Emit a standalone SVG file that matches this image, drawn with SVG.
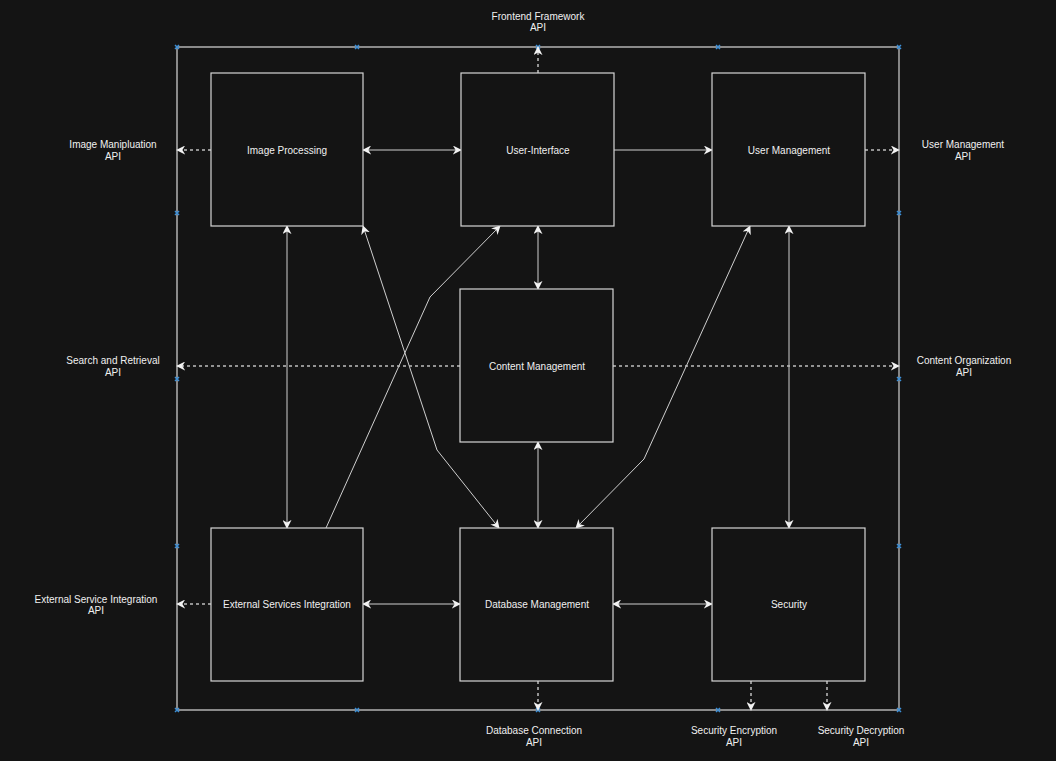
<svg xmlns="http://www.w3.org/2000/svg" width="1056" height="761" viewBox="0 0 1056 761">
<style>
.node rect{fill:#141414;stroke:#d6d6d6;stroke-width:1.2}
.node text,.lbl{fill:#f0f0f0;font-family:"Liberation Sans",Arial,sans-serif;font-size:10px;text-anchor:middle}
.c{fill:none;stroke:#cfcfcf;stroke-width:1}
.d{fill:none;stroke:#bdbdbd;stroke-width:1.5;stroke-dasharray:3,3}
.frame{fill:none;stroke:#8a8a8a;stroke-width:2}
.mk{stroke:#3d8fd6;stroke-width:1.5}
</style>
<defs>
<marker id="ah" viewBox="0 0 10 10" refX="9" refY="5" markerWidth="9" markerHeight="9" markerUnits="userSpaceOnUse" orient="auto-start-reverse">
<path d="M0,0 L10,5 L0,10 L3,5 z" fill="#f2f2f2"/>
</marker>
</defs>
<rect width="1056" height="761" fill="#141414"/>
<g id="frame">
<line class="frame" x1="177" y1="47" x2="899" y2="47"/>
<line class="frame" x1="177" y1="47" x2="177" y2="710"/>
<line class="frame" x1="177" y1="710" x2="899" y2="710"/>
<line x1="899" y1="47" x2="899" y2="710" stroke="#d0d0d0" stroke-width="1.2"/>
<g class="mk">
<path d="M175,45l4,4m0,-4l-4,4"/><path d="M355,45l4,4m0,-4l-4,4"/><path d="M536,45l4,4m0,-4l-4,4"/><path d="M716,45l4,4m0,-4l-4,4"/><path d="M897,45l4,4m0,-4l-4,4"/>
<path d="M175,211l4,4m0,-4l-4,4"/><path d="M175,377l4,4m0,-4l-4,4"/><path d="M175,544l4,4m0,-4l-4,4"/><path d="M175,708l4,4m0,-4l-4,4"/>
<path d="M897,211l4,4m0,-4l-4,4"/><path d="M897,377l4,4m0,-4l-4,4"/><path d="M897,544l4,4m0,-4l-4,4"/><path d="M897,708l4,4m0,-4l-4,4"/>
<path d="M355,708l4,4m0,-4l-4,4"/><path d="M536,708l4,4m0,-4l-4,4"/><path d="M716,708l4,4m0,-4l-4,4"/>
</g>
</g>
<g id="connectors">
<line class="c" x1="363" y1="150" x2="461" y2="150" marker-start="url(#ah)" marker-end="url(#ah)"/>
<line class="c" x1="614" y1="150" x2="712" y2="150" marker-end="url(#ah)"/>
<line class="c" x1="538" y1="226" x2="538" y2="289" marker-start="url(#ah)" marker-end="url(#ah)"/>
<line class="c" x1="287" y1="226" x2="287" y2="528" marker-start="url(#ah)" marker-end="url(#ah)"/>
<line class="c" x1="789" y1="226" x2="789" y2="528" marker-start="url(#ah)" marker-end="url(#ah)"/>
<line class="c" x1="538" y1="442" x2="538" y2="528" marker-start="url(#ah)" marker-end="url(#ah)"/>
<line class="c" x1="363" y1="604" x2="460" y2="604" marker-start="url(#ah)" marker-end="url(#ah)"/>
<line class="c" x1="613" y1="604" x2="712" y2="604" marker-start="url(#ah)" marker-end="url(#ah)"/>
<polyline class="c" points="326,528 430,297 500,226" marker-end="url(#ah)"/>
<polyline class="c" points="363,226 437,450 499,528" marker-start="url(#ah)" marker-end="url(#ah)"/>
<polyline class="c" points="750,226 644,459 576,528" marker-start="url(#ah)" marker-end="url(#ah)"/>
<line class="d" x1="211" y1="150" x2="177" y2="150" marker-end="url(#ah)"/>
<line class="d" x1="538" y1="73" x2="538" y2="47" marker-end="url(#ah)"/>
<line class="d" x1="865" y1="150" x2="899" y2="150" marker-end="url(#ah)"/>
<line class="d" x1="460" y1="366" x2="177" y2="366" marker-end="url(#ah)"/>
<line class="d" x1="613" y1="366" x2="899" y2="366" marker-end="url(#ah)"/>
<line class="d" x1="211" y1="604" x2="177" y2="604" marker-end="url(#ah)"/>
<line class="d" x1="538" y1="681" x2="538" y2="710" marker-end="url(#ah)"/>
<line class="d" x1="751" y1="681" x2="751" y2="710" marker-end="url(#ah)"/>
<line class="d" x1="827" y1="681" x2="827" y2="710" marker-end="url(#ah)"/>
</g>
<g id="n-image" class="node"><rect x="211" y="73" width="152" height="153"/><text x="287" y="154">Image Processing</text></g>
<g id="n-ui" class="node"><rect x="461" y="73" width="153" height="153"/><text x="538" y="154">User-Interface</text></g>
<g id="n-user" class="node"><rect x="712" y="73" width="153" height="153"/><text x="789" y="154">User Management</text></g>
<g id="n-content" class="node"><rect x="460" y="289" width="153" height="153"/><text x="537" y="370">Content Management</text></g>
<g id="n-ext" class="node"><rect x="211" y="528" width="152" height="153"/><text x="287" y="608">External Services  Integration</text></g>
<g id="n-db" class="node"><rect x="460" y="528" width="153" height="153"/><text x="537" y="608">Database Management</text></g>
<g id="n-sec" class="node"><rect x="712" y="528" width="153" height="153"/><text x="789" y="608">Security</text></g>
<g id="labels">
<text class="lbl" x="538" y="20">Frontend Framework</text><text class="lbl" x="538" y="31">API</text>
<text class="lbl" x="113" y="148">Image Manipluation</text><text class="lbl" x="113" y="160">API</text>
<text class="lbl" x="963" y="148">User Management</text><text class="lbl" x="963" y="160">API</text>
<text class="lbl" x="113" y="364">Search and Retrieval</text><text class="lbl" x="113" y="376">API</text>
<text class="lbl" x="964" y="364">Content Organization</text><text class="lbl" x="964" y="376">API</text>
<text class="lbl" x="96" y="603">External Service Integration</text><text class="lbl" x="96" y="614">API</text>
<text class="lbl" x="534" y="734">Database Connection</text><text class="lbl" x="534" y="746">API</text>
<text class="lbl" x="734" y="734">Security Encryption</text><text class="lbl" x="734" y="746">API</text>
<text class="lbl" x="861" y="734">Security Decryption</text><text class="lbl" x="861" y="746">API</text>
</g>
</svg>
